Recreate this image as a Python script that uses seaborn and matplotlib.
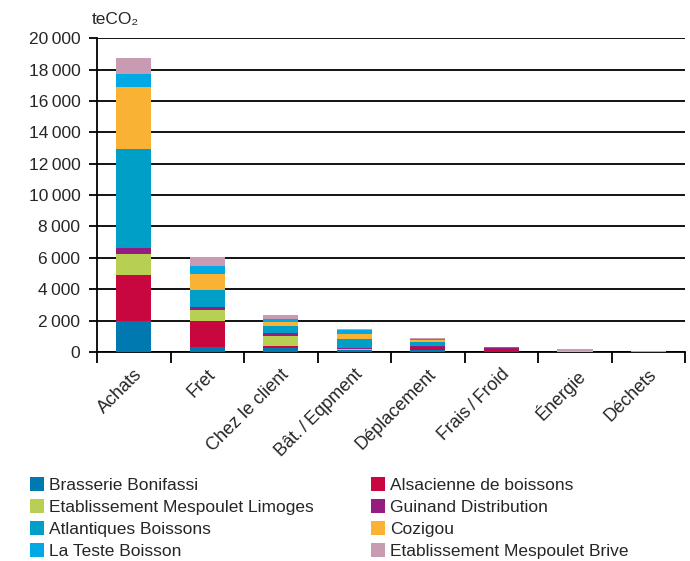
import numpy as np
import matplotlib
matplotlib.use("Agg")
import matplotlib.pyplot as plt
import seaborn as sns
from matplotlib.lines import Line2D
from matplotlib.ticker import FuncFormatter, MultipleLocator, FixedLocator

# categories / series (teCO2)
categories = ["Achats", "Fret", "Chez le client", "Bât.\u2009/\u2009Eqpment", "Déplacement",
              "Frais\u2009/\u2009Froid", "Énergie", "Déchets"]
companies = ["Brasserie Bonifassi", "Alsacienne de boissons", "Etablissement Mespoulet Limoges",
             "Guinand Distribution", "Atlantiques Boissons", "Cozigou", "La Teste Boisson",
             "Etablissement Mespoulet Brive"]
brasserie = [2000, 340, 260, 100, 160, 10, 0, 0]
alsacienne = [2900, 1630, 130, 50, 130, 210, 0, 20]
eml = [1350, 700, 620, 70, 60, 0, 60, 0]
guinand = [380, 190, 220, 40, 60, 10, 0, 0]
atlantiques = [6300, 1080, 430, 600, 200, 60, 0, 0]
cozigou = [3950, 1020, 250, 300, 170, 0, 0, 0]
la_teste = [830, 510, 220, 240, 40, 60, 0, 0]
emb = [1000, 570, 260, 40, 90, 0, 150, 20]
couleurs = ["#0078b0", "#c8063f", "#b7d053", "#951c80", "#009fc7", "#f9b234", "#00a8e4", "#c89bb3"]

series = [brasserie, alsacienne, eml, guinand, atlantiques, cozigou, la_teste, emb]

sns.set_style("white")
plt.rcParams['font.family'] = ['Liberation Sans', 'DejaVu Sans']

fig = plt.figure(figsize=(6.9, 5.61), dpi=100)
ax = fig.add_axes([0.1406, 0.3725, 0.8524, 0.5595])

# empilement : on dessine les cumuls du haut vers le bas
cumul = np.cumsum(np.array(series), axis=0)
for i in range(len(series) - 1, -1, -1):
    sns.barplot(x=categories, y=cumul[i], color=couleurs[i], saturation=1,
                width=0.48, ax=ax, zorder=3, linewidth=0)

ax.set_ylim(0, 20000)
ax.set_xlim(-0.5, 7.5)
ax.yaxis.set_major_locator(MultipleLocator(2000))
ax.yaxis.set_major_formatter(FuncFormatter(lambda v, p: f"{int(v):,}".replace(",", "\u2009")))
ax.grid(axis="y", color="black", linewidth=1.3, zorder=0)
ax.set_axisbelow(True)

for s in ["top", "right"]:
    ax.spines[s].set_visible(False)
for s in ["left", "bottom"]:
    ax.spines[s].set_color("black")
    ax.spines[s].set_linewidth(1.3)

ax.tick_params(axis="y", direction="out", length=6, width=1.3, color="black",
               left=True, labelsize=12.5, pad=6)
ax.set_xticks(range(len(categories)))
ax.set_xticklabels(categories, rotation=45, ha="right", rotation_mode="anchor", fontsize=13)
ax.tick_params(axis="x", which="major", length=0, pad=10)
ax.xaxis.set_minor_locator(FixedLocator(np.arange(-0.5, 8, 1)))
ax.tick_params(axis="x", which="minor", direction="out", length=8, width=1.3, color="black",
               bottom=True)
ax.set_xlabel("")
ax.set_ylabel("")

fig.text(0.133, 0.966, "teCO\u2082", fontsize=12.5, ha="left", va="center")

# légende en deux colonnes
ordre = [0, 2, 4, 6, 1, 3, 5, 7]
handles = [Line2D([], [], marker="s", linestyle="none", markersize=9.5,
                  markerfacecolor=couleurs[i], markeredgewidth=0) for i in ordre]
fig.legend(handles, [companies[i] for i in ordre], ncol=2, loc="lower left",
           bbox_to_anchor=(0.021, -0.024), frameon=False, fontsize=12.5,
           handlelength=0.8, handletextpad=0.3, columnspacing=3.3, labelspacing=0.39)

fig.savefig("out.png", dpi=100)
